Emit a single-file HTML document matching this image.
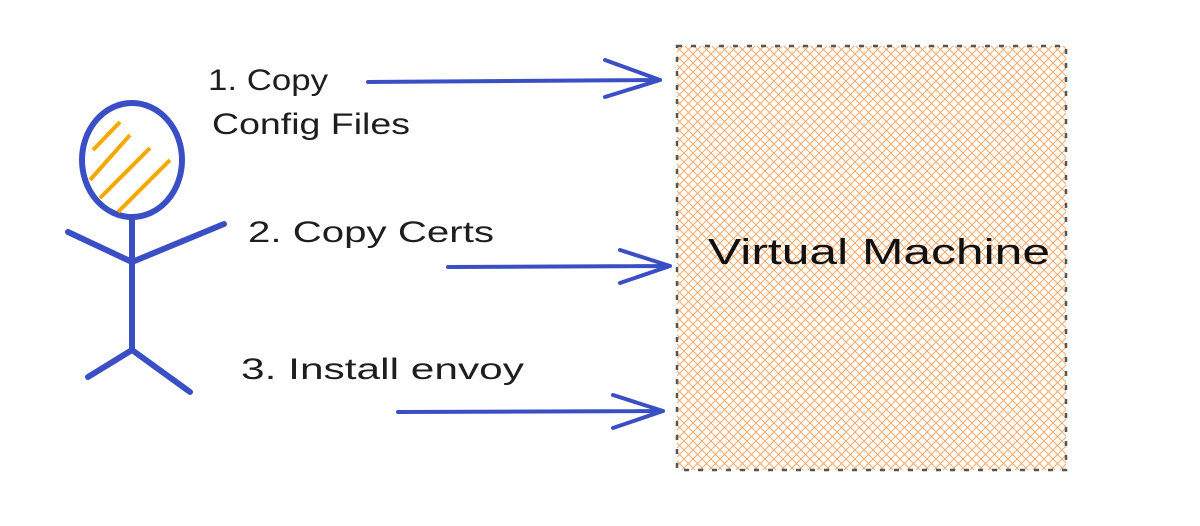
<!DOCTYPE html>
<html><head><meta charset="utf-8"><style>
html,body{margin:0;padding:0;background:#fff;width:1200px;height:526px;overflow:hidden}
text{font-family:"Liberation Sans",sans-serif;fill:#1e1e1e}
</style></head><body>
<svg width="1200" height="526" xmlns="http://www.w3.org/2000/svg">
<defs>
<pattern id="h" width="9" height="9" patternUnits="userSpaceOnUse">
<path d="M-1,10 L10,-1 M-1,1 L1,-1 M8,10 L10,8" stroke="#f9a868" stroke-width="1"/>
<path d="M-1,-1 L10,10 M8,-1 L10,1 M-1,8 L1,10" stroke="#f9a868" stroke-width="1"/>
</pattern>
</defs>
<rect x="677" y="46" width="389" height="424" fill="url(#h)" stroke="#555" stroke-width="2.5" stroke-dasharray="5,9"/>
<text x="708" y="264" font-size="36" textLength="342" lengthAdjust="spacingAndGlyphs" style="fill:#111">Virtual Machine</text>
<!-- stick figure -->
<ellipse cx="132" cy="160" rx="50" ry="57" fill="none" stroke="#3b4fc4" stroke-width="6"/>
<path d="M90,180 L130,135 M100,198 L150,148 M118,212 L170,160 M93,150 L120,122" stroke="#f5a800" stroke-width="4"/>
<path d="M132,217 L132,350 M132,350 L88,377 M132,350 L190,392 M68,232 L132,262 L224,224" fill="none" stroke="#3b4fc4" stroke-width="6" stroke-linecap="round" stroke-linejoin="round"/>
<!-- labels -->
<text x="208" y="90" font-size="30" textLength="120" lengthAdjust="spacingAndGlyphs">1. Copy</text>
<text x="212" y="134" font-size="30" textLength="198" lengthAdjust="spacingAndGlyphs">Config Files</text>
<text x="248" y="242" font-size="30" textLength="246" lengthAdjust="spacingAndGlyphs">2. Copy Certs</text>
<text x="241" y="379" font-size="30" textLength="283" lengthAdjust="spacingAndGlyphs">3. Install envoy</text>
<!-- arrows -->
<g fill="none" stroke="#3b4fc4" stroke-width="4" stroke-linecap="round" stroke-linejoin="round">
<path d="M368,82 L660,80 M605,60 L660,80 L605,97"/>
<path d="M448,267 L670,266 M620,250 L670,266 L620,283"/>
<path d="M398,412 L663,411 M613,395 L663,411 L613,428"/>
</g>
</svg>
</body></html>
